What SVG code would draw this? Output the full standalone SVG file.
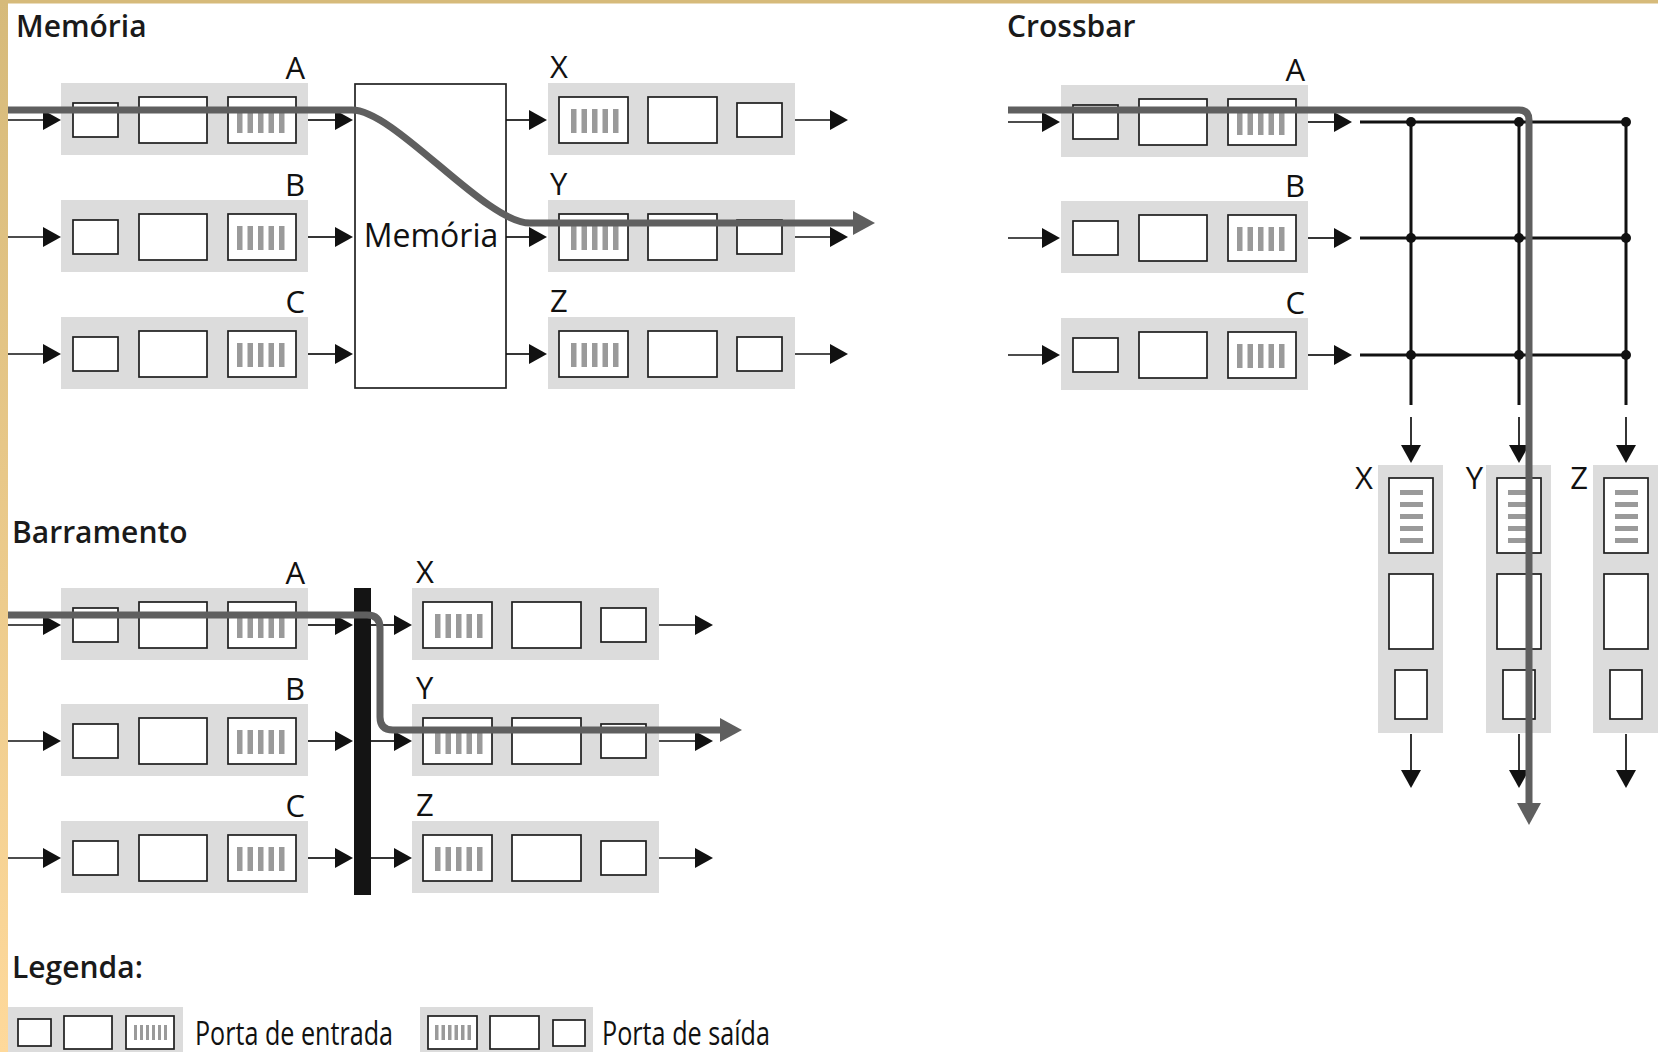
<svg xmlns="http://www.w3.org/2000/svg" xmlns:xlink="http://www.w3.org/1999/xlink" width="1658" height="1052" viewBox="0 0 1658 1052">
<style>
.bg{fill:#dcdcdc}
.bx{fill:#fff;stroke:#1e1e1e;stroke-width:1.7}
.st{fill:#9a9a9a}
.ln{stroke:#111;stroke-width:1.7;fill:none;marker-end:url(#ah)}
.gl{stroke:#111;stroke-width:3;fill:none}
.dot{fill:#111}
.hl{fill:none;stroke:#5f5f5f;stroke-width:7;marker-end:url(#hah)}
.h1{font-family:"Open Sans","Liberation Sans",sans-serif;font-weight:600;font-size:30px;fill:#1a1a1a}
.lb{font-family:"Open Sans","Liberation Sans",sans-serif;font-size:31px;fill:#111}
.lg{font-family:"Open Sans","Liberation Sans",sans-serif;font-size:32px;fill:#111}
</style>
<defs>
<linearGradient id="edge" x1="0" y1="0" x2="0" y2="1">
<stop offset="0" stop-color="#d6ba7a"/>
<stop offset="1" stop-color="#fed99b"/>
</linearGradient>
<marker id="ah" markerUnits="userSpaceOnUse" viewBox="0 -10 18 20" refX="0" refY="0" markerWidth="18" markerHeight="20" orient="auto">
<path d="M0,-10 L18,0 L0,10 Z" fill="#111"/>
</marker>
<marker id="hah" markerUnits="userSpaceOnUse" viewBox="0 -12 22 24" refX="0" refY="0" markerWidth="22" markerHeight="24" orient="auto">
<path d="M0,-12 L22,0 L0,12 Z" fill="#5f5f5f"/>
</marker>
<g id="inPort">
<rect class="bg" x="0" y="-37" width="247" height="72"/>
<rect class="bx" x="12" y="-17" width="45" height="34"/>
<rect class="bx" x="78" y="-23" width="68" height="46"/>
<rect class="bx" x="167" y="-23" width="68" height="46"/>
<rect class="st" x="176" y="-11" width="5.5" height="24"/>
<rect class="st" x="186.5" y="-11" width="5.5" height="24"/>
<rect class="st" x="197" y="-11" width="5.5" height="24"/>
<rect class="st" x="207.5" y="-11" width="5.5" height="24"/>
<rect class="st" x="218" y="-11" width="5.5" height="24"/>
</g>
<g id="outPort">
<rect class="bg" x="0" y="-37" width="247" height="72"/>
<rect class="bx" x="11" y="-23" width="69" height="46"/>
<rect class="st" x="23" y="-11" width="5.5" height="24"/>
<rect class="st" x="33.5" y="-11" width="5.5" height="24"/>
<rect class="st" x="44" y="-11" width="5.5" height="24"/>
<rect class="st" x="54.5" y="-11" width="5.5" height="24"/>
<rect class="st" x="65" y="-11" width="5.5" height="24"/>
<rect class="bx" x="100" y="-23" width="69" height="46"/>
<rect class="bx" x="189" y="-17" width="45" height="34"/>
</g>
<g id="vPort">
<rect class="bg" x="-33" y="0" width="65" height="268"/>
<rect class="bx" x="-22" y="13" width="44" height="75"/>
<rect class="st" x="-11" y="25" width="23" height="5"/>
<rect class="st" x="-11" y="37" width="23" height="5"/>
<rect class="st" x="-11" y="49" width="23" height="5"/>
<rect class="st" x="-11" y="61" width="23" height="5"/>
<rect class="st" x="-11" y="73" width="23" height="5"/>
<rect class="bx" x="-22" y="109" width="44" height="75"/>
<rect class="bx" x="-16" y="205" width="32" height="49"/>
</g>
</defs>

<rect x="0" y="0" width="1658" height="1052" fill="#fff"/>
<rect x="0" y="0" width="1658" height="3.5" fill="#d6ba7a"/>
<rect x="0" y="0" width="8" height="1052" fill="url(#edge)"/>

<!-- Section titles -->
<text class="h1" x="16" y="37">Memória</text>
<text class="h1" x="1007" y="37">Crossbar</text>
<text class="h1" x="12" y="543">Barramento</text>
<text class="h1" x="12" y="978">Legenda:</text>

<!-- Memória nodes -->
<g id="mem-in-A" transform="translate(61,120)"><use xlink:href="#inPort"/><text class="lb" x="244" y="-41" text-anchor="end">A</text></g>
<g id="mem-in-B" transform="translate(61,237)"><use xlink:href="#inPort"/><text class="lb" x="244" y="-41" text-anchor="end">B</text></g>
<g id="mem-in-C" transform="translate(61,354)"><use xlink:href="#inPort"/><text class="lb" x="244" y="-41" text-anchor="end">C</text></g>
<g id="mem-box"><rect x="355" y="84" width="151" height="304" fill="#fff" stroke="#222" stroke-width="1.7"/><text class="lg" x="431" y="247" text-anchor="middle">Memória</text></g>
<g id="mem-out-X" transform="translate(548,120)"><use xlink:href="#outPort"/><text class="lb" x="2" y="-42">X</text></g>
<g id="mem-out-Y" transform="translate(548,237)"><use xlink:href="#outPort"/><text class="lb" x="2" y="-42">Y</text></g>
<g id="mem-out-Z" transform="translate(548,354)"><use xlink:href="#outPort"/><text class="lb" x="2" y="-42">Z</text></g>

<!-- Crossbar nodes -->
<g id="cb-in-A" transform="translate(1061,122)"><use xlink:href="#inPort"/><text class="lb" x="244" y="-41" text-anchor="end">A</text></g>
<g id="cb-in-B" transform="translate(1061,238)"><use xlink:href="#inPort"/><text class="lb" x="244" y="-41" text-anchor="end">B</text></g>
<g id="cb-in-C" transform="translate(1061,355)"><use xlink:href="#inPort"/><text class="lb" x="244" y="-41" text-anchor="end">C</text></g>
<g id="cb-out-X" transform="translate(1411,465)"><use xlink:href="#vPort"/><text class="lb" x="-38" y="24" text-anchor="end">X</text></g>
<g id="cb-out-Y" transform="translate(1519,465)"><use xlink:href="#vPort"/><text class="lb" x="-36" y="24" text-anchor="end">Y</text></g>
<g id="cb-out-Z" transform="translate(1626,465)"><use xlink:href="#vPort"/><text class="lb" x="-38" y="24" text-anchor="end">Z</text></g>

<!-- Barramento nodes -->
<g id="bus-in-A" transform="translate(61,625)"><use xlink:href="#inPort"/><text class="lb" x="244" y="-41" text-anchor="end">A</text></g>
<g id="bus-in-B" transform="translate(61,741)"><use xlink:href="#inPort"/><text class="lb" x="244" y="-41" text-anchor="end">B</text></g>
<g id="bus-in-C" transform="translate(61,858)"><use xlink:href="#inPort"/><text class="lb" x="244" y="-41" text-anchor="end">C</text></g>
<g id="bus-bar"><rect x="354" y="588" width="17" height="307" fill="#141414"/></g>
<g id="bus-out-X" transform="translate(412,625)"><use xlink:href="#outPort"/><text class="lb" x="4" y="-42">X</text></g>
<g id="bus-out-Y" transform="translate(412,741)"><use xlink:href="#outPort"/><text class="lb" x="4" y="-42">Y</text></g>
<g id="bus-out-Z" transform="translate(412,858)"><use xlink:href="#outPort"/><text class="lb" x="4" y="-42">Z</text></g>

<!-- Legend -->
<g id="legend-in">
<rect class="bg" x="8" y="1007" width="175" height="45"/>
<rect class="bx" x="18" y="1019" width="33" height="27"/>
<rect class="bx" x="64" y="1016" width="48" height="33"/>
<rect class="bx" x="126" y="1016" width="48" height="33"/>
<rect class="st" x="134" y="1025" width="3" height="15"/>
<rect class="st" x="140" y="1025" width="3" height="15"/>
<rect class="st" x="146" y="1025" width="3" height="15"/>
<rect class="st" x="152" y="1025" width="3" height="15"/>
<rect class="st" x="158" y="1025" width="3" height="15"/>
<rect class="st" x="164" y="1025" width="3" height="15"/>
<text class="lg" x="195" y="1045" textLength="198" lengthAdjust="spacingAndGlyphs">Porta de entrada</text>
</g>
<g id="legend-out">
<rect class="bg" x="420" y="1007" width="173" height="45"/>
<rect class="bx" x="428" y="1016" width="49" height="33"/>
<rect class="st" x="435" y="1025" width="3.5" height="15"/>
<rect class="st" x="441.5" y="1025" width="3.5" height="15"/>
<rect class="st" x="448" y="1025" width="3.5" height="15"/>
<rect class="st" x="454.5" y="1025" width="3.5" height="15"/>
<rect class="st" x="461" y="1025" width="3.5" height="15"/>
<rect class="st" x="467.5" y="1025" width="3.5" height="15"/>
<rect class="bx" x="490" y="1016" width="49" height="33"/>
<rect class="bx" x="553" y="1020" width="32" height="26"/>
<text class="lg" x="602" y="1045" textLength="168" lengthAdjust="spacingAndGlyphs">Porta de saída</text>
</g>

<!-- Connectors -->
<g id="connectors">
<!-- Memória -->
<path class="ln" d="M8 120 H43"/>
<path class="ln" d="M8 237 H43"/>
<path class="ln" d="M8 354 H43"/>
<path class="ln" d="M308 120 H335"/>
<path class="ln" d="M308 237 H335"/>
<path class="ln" d="M308 354 H335"/>
<path class="ln" d="M506 120 H529"/>
<path class="ln" d="M506 237 H529"/>
<path class="ln" d="M506 354 H529"/>
<path class="ln" d="M795 120 H830"/>
<path class="ln" d="M795 237 H830"/>
<path class="ln" d="M795 354 H830"/>
<!-- Crossbar -->
<path class="ln" d="M1008 122 H1042"/>
<path class="ln" d="M1008 238 H1042"/>
<path class="ln" d="M1008 355 H1042"/>
<path class="ln" d="M1308 122 H1334"/>
<path class="ln" d="M1308 238 H1334"/>
<path class="ln" d="M1308 355 H1334"/>
<path class="gl" d="M1360 122 H1626 M1360 238 H1626 M1360 355 H1626 M1411 122 V405 M1519 122 V405 M1626 122 V405"/>
<circle class="dot" cx="1411" cy="122" r="5"/><circle class="dot" cx="1519" cy="122" r="5"/><circle class="dot" cx="1626" cy="122" r="5"/>
<circle class="dot" cx="1411" cy="238" r="5"/><circle class="dot" cx="1519" cy="238" r="5"/><circle class="dot" cx="1626" cy="238" r="5"/>
<circle class="dot" cx="1411" cy="355" r="5"/><circle class="dot" cx="1519" cy="355" r="5"/><circle class="dot" cx="1626" cy="355" r="5"/>
<path class="ln" d="M1411 417 V445"/>
<path class="ln" d="M1519 417 V445"/>
<path class="ln" d="M1626 417 V445"/>
<path class="ln" d="M1411 734 V770"/>
<path class="ln" d="M1519 734 V770"/>
<path class="ln" d="M1626 734 V770"/>
<!-- Barramento -->
<path class="ln" d="M8 625 H43"/>
<path class="ln" d="M8 741 H43"/>
<path class="ln" d="M8 858 H43"/>
<path class="ln" d="M308 625 H335"/>
<path class="ln" d="M308 741 H335"/>
<path class="ln" d="M308 858 H335"/>
<path class="ln" d="M371 625 H394"/>
<path class="ln" d="M371 741 H394"/>
<path class="ln" d="M371 858 H394"/>
<path class="ln" d="M659 625 H695"/>
<path class="ln" d="M659 741 H695"/>
<path class="ln" d="M659 858 H695"/>
<!-- Highlighted paths -->
<path class="hl" d="M8 110 H352 C395 110 485 223 530 223 H853"/>
<path class="hl" d="M1008 110 H1519 Q1529 110 1529 120 V803"/>
<path class="hl" d="M8 615 H367 Q380 615 380 628 V717 Q380 730 393 730 H720"/>
</g>
</svg>
